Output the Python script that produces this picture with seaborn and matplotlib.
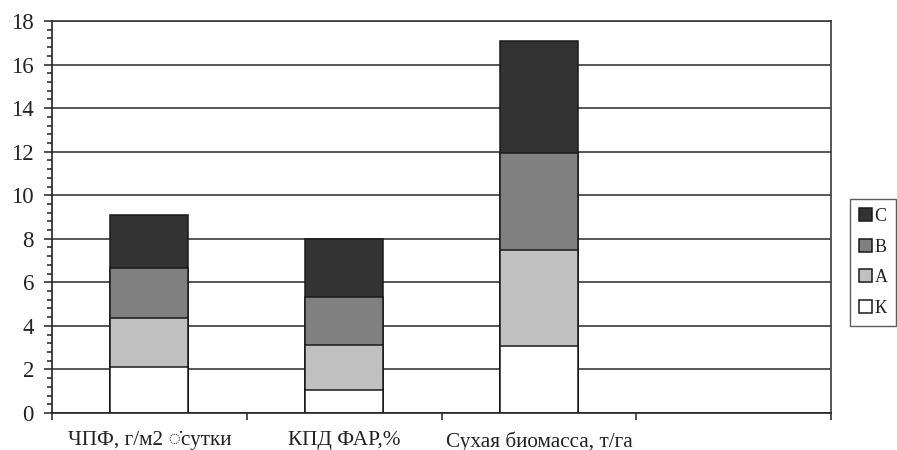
import matplotlib
matplotlib.use("Agg")
import matplotlib.pyplot as plt
from matplotlib.ticker import MultipleLocator
import seaborn as sns
import numpy as np

# ---- data ----
categories = ["ЧПФ, г/м2 \u25CC\u0307сутки", "КПД ФАР,%", "Сухая биомасса, т/га"]
series_names = ["K", "A", "B", "C"]
legend_labels = {"K": "К", "A": "А", "B": "В", "C": "С"}
values_K = [2.10, 1.04, 3.09]
values_A = [2.26, 2.10, 4.39]
values_B = [2.28, 2.19, 4.44]
values_C = [2.45, 2.67, 5.16]
colors = {"K": "#ffffff", "A": "#c0c0c0", "B": "#808080", "C": "#333333"}

sns.set_theme(style="white")
plt.rcParams["font.family"] = ["Liberation Serif", "DejaVu Sans"]

fig = plt.figure(figsize=(8.97, 4.5), dpi=100)
ax = fig.add_axes([52/897, 1-413/450, (831-52)/897, (413-21)/450])

series = {"K": values_K, "A": values_A, "B": values_B, "C": values_C}
cum = {}
running = np.zeros(len(categories))
for s in series_names:
    running = running + np.array(series[s])
    cum[s] = running.copy()

grid_col = "#3a3a3a"
ax.set_axisbelow(True)
ax.yaxis.grid(True, color=grid_col, linewidth=1.2)

for s in ["C", "B", "A", "K"]:
    sns.barplot(x=categories, y=cum[s], order=categories, color=colors[s],
                saturation=1, width=0.4, edgecolor="#1a1a1a", linewidth=1.1,
                label=legend_labels[s], ax=ax, zorder=2)

ax.set_xlim(-0.5, 3.5)
ax.set_ylim(0, 18)
ax.set_yticks(np.arange(0, 19, 2))
ax.yaxis.set_minor_locator(MultipleLocator(0.4))
ax.tick_params(axis="y", which="major", length=6, width=1.1, color="#222222",
               labelsize=16.5, pad=7, left=True, labelcolor="#222222")
ax.tick_params(axis="y", which="minor", length=3.8, width=1.1, color="#222222", left=True)

ax.set_xticks([-0.5, 0.5, 1.5, 2.5, 3.5])
ax.set_xticklabels([])
ax.set_xticks([0, 1, 2], minor=True)
ax.set_xticklabels(categories, minor=True)
ax.tick_params(axis="x", which="major", length=5, width=1.1, color="#222222", bottom=True)
ax.tick_params(axis="x", which="minor", length=0, labelsize=15.3, pad=13, labelcolor="#222222")
ax.set_xlabel("")
ax.set_ylabel("")

for side in ["left", "bottom", "right", "top"]:
    ax.spines[side].set_visible(True)
    ax.spines[side].set_color("#222222")
    ax.spines[side].set_linewidth(1.2)
ax.spines["top"].set_color(grid_col)
ax.spines["right"].set_color(grid_col)

leg = ax.legend(loc="upper left", bbox_to_anchor=(850/897, 1-199/450),
                bbox_transform=fig.transFigure, frameon=True, fancybox=False,
                fontsize=13, handlelength=0.7, handleheight=0.7,
                handletextpad=0.15, labelspacing=0.75, borderpad=0.5,
                borderaxespad=0)
leg.get_frame().set_edgecolor("#333333")
leg.get_frame().set_linewidth(1.0)
for t in leg.get_texts():
    t.set_color("#222222")

fig.savefig("out.png", dpi=100)
